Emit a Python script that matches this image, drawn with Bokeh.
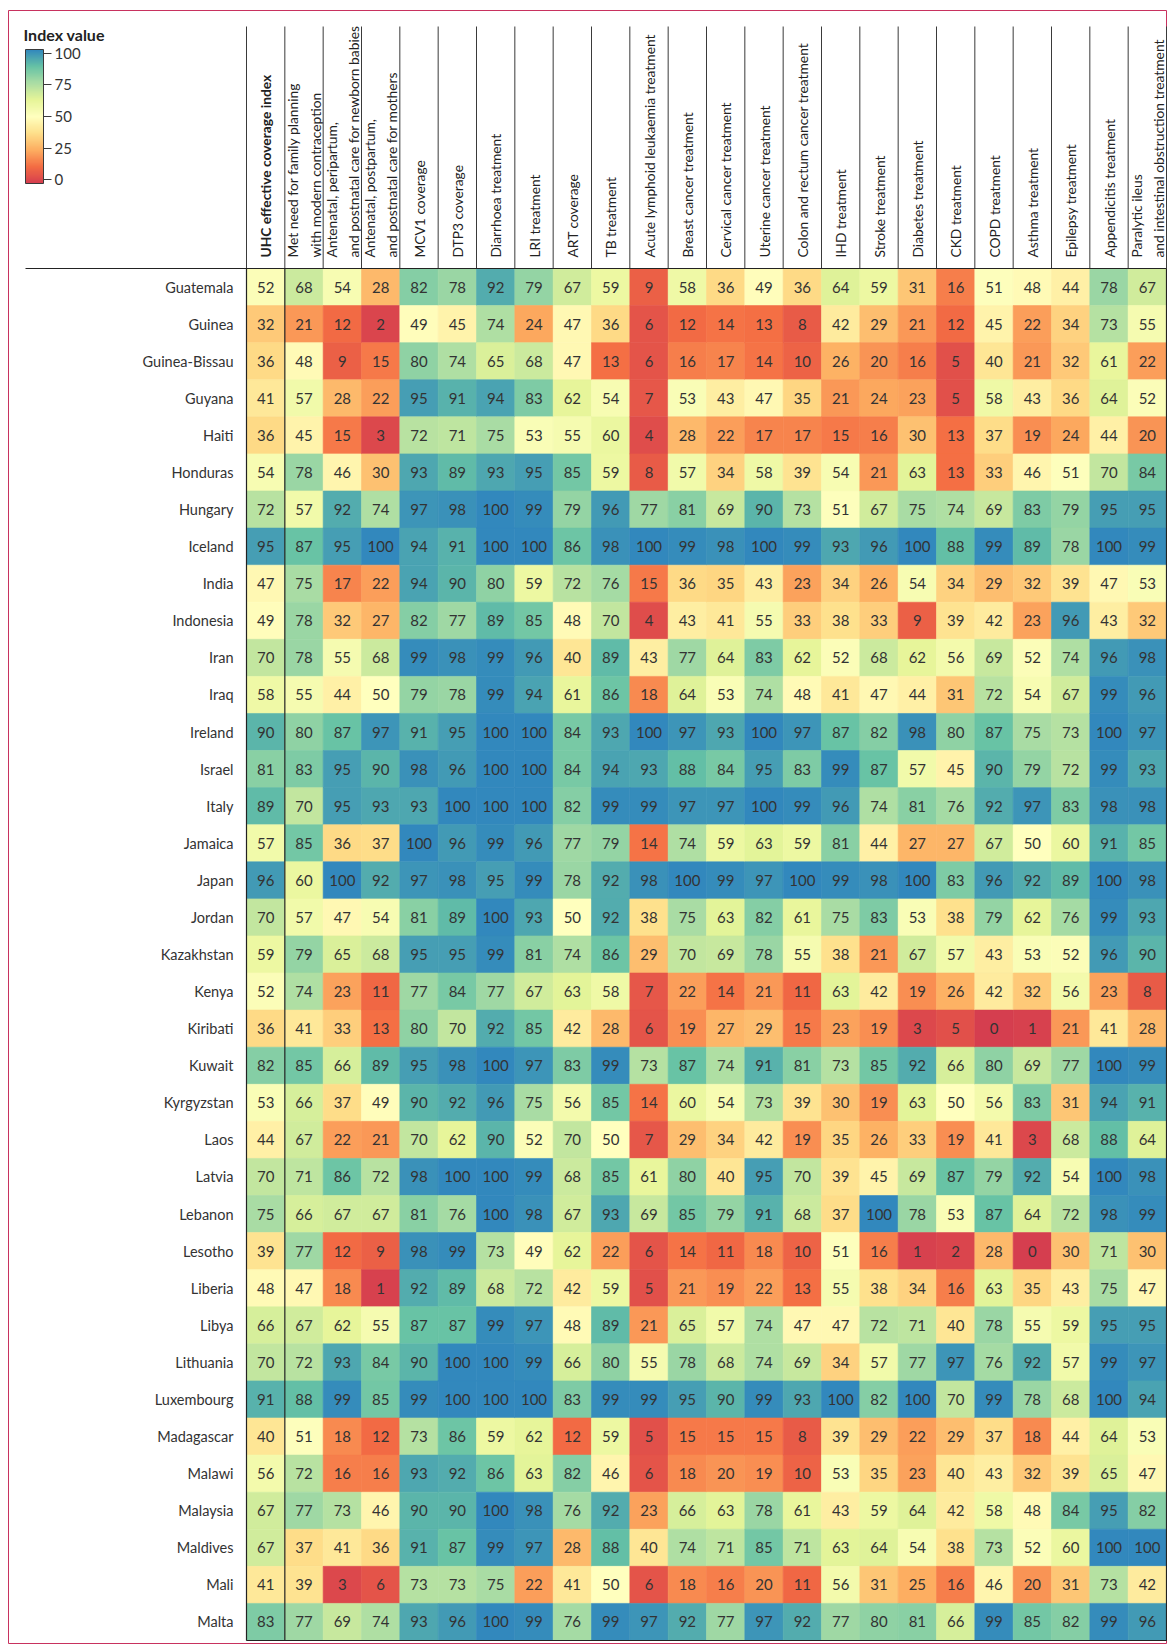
import numpy as np
from bokeh.plotting import figure
from bokeh.models import ColumnDataSource, LinearColorMapper, ColorBar, FixedTicker, Range1d
from bokeh.embed import file_html
from bokeh.resources import INLINE
from bokeh.core.properties import value

# ---------------- data ----------------
countries = ["Guatemala", "Guinea", "Guinea-Bissau", "Guyana", "Haiti", "Honduras", "Hungary",
             "Iceland", "India", "Indonesia", "Iran", "Iraq", "Ireland", "Israel", "Italy",
             "Jamaica", "Japan", "Jordan", "Kazakhstan", "Kenya", "Kiribati", "Kuwait",
             "Kyrgyzstan", "Laos", "Latvia", "Lebanon", "Lesotho", "Liberia", "Libya",
             "Lithuania", "Luxembourg", "Madagascar", "Malawi", "Malaysia", "Maldives",
             "Mali", "Malta"]

indicators = [
    "UHC effective coverage index",
    "Met need for family planning\nwith modern contraception",
    "Antenatal, peripartum,\nand postnatal care for newborn babies",
    "Antenatal, postpartum,\nand postnatal care for mothers",
    "MCV1 coverage",
    "DTP3 coverage",
    "Diarrhoea treatment",
    "LRI treatment",
    "ART coverage",
    "TB treatment",
    "Acute lymphoid leukaemia treatment",
    "Breast cancer treatment",
    "Cervical cancer treatment",
    "Uterine cancer treatment",
    "Colon and rectum cancer treatment",
    "IHD treatment",
    "Stroke treatment",
    "Diabetes treatment",
    "CKD treatment",
    "COPD treatment",
    "Asthma treatment",
    "Epilepsy treatment",
    "Appendicitis treatment",
    "Paralytic ileus\nand intestinal obstruction treatment",
]

uhc = [52, 32, 36, 41, 36, 54, 72, 95, 47, 49, 70, 58, 90, 81, 89, 57, 96, 70, 59, 52, 36, 82, 53, 44, 70, 75, 39, 48, 66, 70, 91, 40, 56, 67, 67, 41, 83]
met_need = [68, 21, 48, 57, 45, 78, 57, 87, 75, 78, 78, 55, 80, 83, 70, 85, 60, 57, 79, 74, 41, 85, 66, 67, 71, 66, 77, 47, 67, 72, 88, 51, 72, 77, 37, 39, 77]
ant_newborn = [54, 12, 9, 28, 15, 46, 92, 95, 17, 32, 55, 44, 87, 95, 95, 36, 100, 47, 65, 23, 33, 66, 37, 22, 86, 67, 12, 18, 62, 93, 99, 18, 16, 73, 41, 3, 69]
ant_mothers = [28, 2, 15, 22, 3, 30, 74, 100, 22, 27, 68, 50, 97, 90, 93, 37, 92, 54, 68, 11, 13, 89, 49, 21, 72, 67, 9, 1, 55, 84, 85, 12, 16, 46, 36, 6, 74]
mcv1 = [82, 49, 80, 95, 72, 93, 97, 94, 94, 82, 99, 79, 91, 98, 93, 100, 97, 81, 95, 77, 80, 95, 90, 70, 98, 81, 98, 92, 87, 90, 99, 73, 93, 90, 91, 73, 93]
dtp3 = [78, 45, 74, 91, 71, 89, 98, 91, 90, 77, 98, 78, 95, 96, 100, 96, 98, 89, 95, 84, 70, 98, 92, 62, 100, 76, 99, 89, 87, 100, 100, 86, 92, 90, 87, 73, 96]
diarrhoea = [92, 74, 65, 94, 75, 93, 100, 100, 80, 89, 99, 99, 100, 100, 100, 99, 95, 100, 99, 77, 92, 100, 96, 90, 100, 100, 73, 68, 99, 100, 100, 59, 86, 100, 99, 75, 100]
lri = [79, 24, 68, 83, 53, 95, 99, 100, 59, 85, 96, 94, 100, 100, 100, 96, 99, 93, 81, 67, 85, 97, 75, 52, 99, 98, 49, 72, 97, 99, 100, 62, 63, 98, 97, 22, 99]
art = [67, 47, 47, 62, 55, 85, 79, 86, 72, 48, 40, 61, 84, 84, 82, 77, 78, 50, 74, 63, 42, 83, 56, 70, 68, 67, 62, 42, 48, 66, 83, 12, 82, 76, 28, 41, 76]
tb = [59, 36, 13, 54, 60, 59, 96, 98, 76, 70, 89, 86, 93, 94, 99, 79, 92, 92, 86, 58, 28, 99, 85, 50, 85, 93, 22, 59, 89, 80, 99, 59, 46, 92, 88, 50, 99]
all_leuk = [9, 6, 6, 7, 4, 8, 77, 100, 15, 4, 43, 18, 100, 93, 99, 14, 98, 38, 29, 7, 6, 73, 14, 7, 61, 69, 6, 5, 21, 55, 99, 5, 6, 23, 40, 6, 97]
breast = [58, 12, 16, 53, 28, 57, 81, 99, 36, 43, 77, 64, 97, 88, 97, 74, 100, 75, 70, 22, 19, 87, 60, 29, 80, 85, 14, 21, 65, 78, 95, 15, 18, 66, 74, 18, 92]
cervical = [36, 14, 17, 43, 22, 34, 69, 98, 35, 41, 64, 53, 93, 84, 97, 59, 99, 63, 69, 14, 27, 74, 54, 34, 40, 79, 11, 19, 57, 68, 90, 15, 20, 63, 71, 16, 77]
uterine = [49, 13, 14, 47, 17, 58, 90, 100, 43, 55, 83, 74, 100, 95, 100, 63, 97, 82, 78, 21, 29, 91, 73, 42, 95, 91, 18, 22, 74, 74, 99, 15, 19, 78, 85, 20, 97]
colon = [36, 8, 10, 35, 17, 39, 73, 99, 23, 33, 62, 48, 97, 83, 99, 59, 100, 61, 55, 11, 15, 81, 39, 19, 70, 68, 10, 13, 47, 69, 93, 8, 10, 61, 71, 11, 92]
ihd = [64, 42, 26, 21, 15, 54, 51, 93, 34, 38, 52, 41, 87, 99, 96, 81, 99, 75, 38, 63, 23, 73, 30, 35, 39, 37, 51, 55, 47, 34, 100, 39, 53, 43, 63, 56, 77]
stroke = [59, 29, 20, 24, 16, 21, 67, 96, 26, 33, 68, 47, 82, 87, 74, 44, 98, 83, 21, 42, 19, 85, 19, 26, 45, 100, 16, 38, 72, 57, 82, 29, 35, 59, 64, 31, 80]
diabetes = [31, 21, 16, 23, 30, 63, 75, 100, 54, 9, 62, 44, 98, 57, 81, 27, 100, 53, 67, 19, 3, 92, 63, 33, 69, 78, 1, 34, 71, 77, 100, 22, 23, 64, 54, 25, 81]
ckd = [16, 12, 5, 5, 13, 13, 74, 88, 34, 39, 56, 31, 80, 45, 76, 27, 83, 38, 57, 26, 5, 66, 50, 19, 87, 53, 2, 16, 40, 97, 70, 29, 40, 42, 38, 16, 66]
copd = [51, 45, 40, 58, 37, 33, 69, 99, 29, 42, 69, 72, 87, 90, 92, 67, 96, 79, 43, 42, 0, 80, 56, 41, 79, 87, 28, 63, 78, 76, 99, 37, 43, 58, 73, 46, 99]
asthma = [48, 22, 21, 43, 19, 46, 83, 89, 32, 23, 52, 54, 75, 79, 97, 50, 92, 62, 53, 32, 1, 69, 83, 3, 92, 64, 0, 35, 55, 92, 78, 18, 32, 48, 52, 20, 85]
epilepsy = [44, 34, 32, 36, 24, 51, 79, 78, 39, 96, 74, 67, 73, 72, 83, 60, 89, 76, 52, 56, 21, 77, 31, 68, 54, 72, 30, 43, 59, 57, 68, 44, 39, 84, 60, 31, 82]
appendicitis = [78, 73, 61, 64, 44, 70, 95, 100, 47, 43, 96, 99, 100, 99, 98, 91, 100, 99, 96, 23, 41, 100, 94, 88, 100, 98, 71, 75, 95, 99, 100, 64, 65, 95, 100, 73, 99]
paralytic = [67, 55, 22, 52, 20, 84, 95, 99, 53, 32, 98, 96, 97, 93, 98, 85, 98, 93, 90, 8, 28, 99, 91, 64, 98, 99, 30, 47, 95, 97, 94, 53, 47, 82, 100, 42, 96]

series = [uhc, met_need, ant_newborn, ant_mothers, mcv1, dtp3, diarrhoea, lri, art, tb,
          all_leuk, breast, cervical, uterine, colon, ihd, stroke, diabetes, ckd, copd,
          asthma, epilepsy, appendicitis, paralytic]

legend_title = "Index value"
legend_ticks = [0, 25, 50, 75, 100]

for k, s in enumerate(series):
    if len(s) != len(countries):
        raise ValueError(f"series {k} has {len(s)} values")

# ---------------- layout constants (pixels) ----------------
W, H = 1167, 1644
FRAME_L, FRAME_T = 8, 10            # pink frame offset
FW, FH = W - FRAME_L, H - FRAME_T   # frame size
HEAT_LEFT = 238.0                   # heatmap left, frame px
NCOL = len(indicators)
NROW = len(countries)
COLW = 920.0 / NCOL
HEAT_TOP = 258.0                    # heatmap top, frame px
RH = 1372.0 / NROW
HEADER_TOP = 16.0                   # top of header column rules (frame px)
RULE_LEFT = 17.0                    # left end of rule under headers (frame px)
LABEL_GAP = 13.0                    # gap between country label and heatmap
HEADER_GAP = 11.0                   # gap between header text and rule

FONT = "Lato"
TXT = "#333333"
LINE = "#3a3a3a"

# palette (Spectral, red -> blue), interpolated
spec = ["#d53e4f", "#f46d43", "#fdae61", "#fee08b", "#ffffbf", "#e6f598", "#abdda4", "#66c2a5", "#3288bd"]
rgb = np.array([[int(c[i:i + 2], 16) for i in (1, 3, 5)] for c in spec], dtype=float)
pos = np.linspace(0, 1, len(spec))
tt = np.linspace(0, 1, 256)
pal = ["#%02x%02x%02x" % tuple(int(round(np.interp(t, pos, rgb[:, ch]))) for ch in range(3)) for t in tt]

mapper = LinearColorMapper(palette=pal, low=0, high=100)
cb_mapper = LinearColorMapper(palette=pal, low=-2.8, high=102.8)

p = figure(width=W, height=H, output_backend="svg", toolbar_location=None,
           x_range=Range1d(-HEAT_LEFT / COLW, (FW - HEAT_LEFT) / COLW),
           y_range=Range1d(-(FH - HEAT_TOP) / RH, HEAT_TOP / RH),
           min_border_left=FRAME_L, min_border_right=0, min_border_top=FRAME_T, min_border_bottom=0,
           x_axis_location=None, y_axis_location=None)
p.grid.visible = False
p.background_fill_color = "white"
p.border_fill_color = "white"
p.outline_line_color = "#c8325f"
p.outline_line_width = 1

# cells
xs, ys, vs, labs = [], [], [], []
for j, s in enumerate(series):
    for i, v in enumerate(s):
        xs.append(j + 0.5)
        ys.append(-(i + 0.5))
        vs.append(v)
        labs.append(str(v))
src = ColumnDataSource(dict(x=xs, y=ys, v=vs, lab=labs))
p.rect(x="x", y="y", width=1, height=1, source=src,
       fill_color={"field": "v", "transform": mapper},
       line_color={"field": "v", "transform": mapper}, line_width=0.6)
p.text(x="x", y="y", text="lab", source=src, text_align="center", text_baseline="middle",
       text_font=value(FONT), text_font_size="15px", text_color=TXT)

# country labels
p.text(x=[-LABEL_GAP / COLW] * NROW, y=[-(i + 0.5) for i in range(NROW)], text=countries,
       text_align="right", text_baseline="middle", text_font=value(FONT),
       text_font_size="14.5px", text_color=TXT)

# column headers
hsrc = ColumnDataSource(dict(x=[j + 0.5 for j in range(NCOL)], y=[HEADER_GAP / RH] * NCOL,
                             t=indicators,
                             st=["bold"] + ["normal"] * (NCOL - 1)))
p.text(x="x", y="y", text="t", source=hsrc, angle=np.pi / 2, text_align="left",
       text_baseline="middle", text_font=value(FONT), text_font_size="13.8px",
       text_font_style="st", text_color="#222222", text_line_height=1.32)

# header rules
ytop = (HEAT_TOP - HEADER_TOP) / RH
p.segment(x0=list(range(NCOL + 1)), y0=[0] * (NCOL + 1), x1=list(range(NCOL + 1)),
          y1=[ytop] * (NCOL + 1), line_color=LINE, line_width=1)
# heatmap borders
p.segment(x0=[0, 1, NCOL], y0=[0, 0, 0], x1=[0, 1, NCOL], y1=[-NROW] * 3,
          line_color="#222222", line_width=1.2)
p.segment(x0=[(RULE_LEFT - HEAT_LEFT) / COLW, 0], y0=[0, -NROW], x1=[NCOL, NCOL], y1=[0, -NROW],
          line_color="#222222", line_width=1.2)

# legend title
p.text(x=[(15 - HEAT_LEFT) / COLW], y=[(HEAT_TOP - 23.5) / RH], text=[legend_title],
       text_align="left", text_baseline="middle", text_font=value(FONT),
       text_font_size="16px", text_font_style="bold", text_color="#222222")

# colour legend (bar)
BAR_TOP, BAR_H = 39, 134
cb = ColorBar(color_mapper=cb_mapper, location=(17, FH - BAR_TOP - BAR_H), orientation="vertical",
              width=18, height=BAR_H, margin=0, padding=0,
              ticker=FixedTicker(ticks=legend_ticks),
              major_label_text_font=FONT, major_label_text_font_size="15px",
              major_label_text_color=TXT, major_tick_out=8, major_tick_in=0,
              major_tick_line_color=LINE, minor_tick_line_color=None,
              bar_line_color=LINE, label_standoff=3,
              background_fill_alpha=0, border_line_color=None)
p.add_layout(cb)

open("out.html", "w").write(file_html(p, INLINE))
